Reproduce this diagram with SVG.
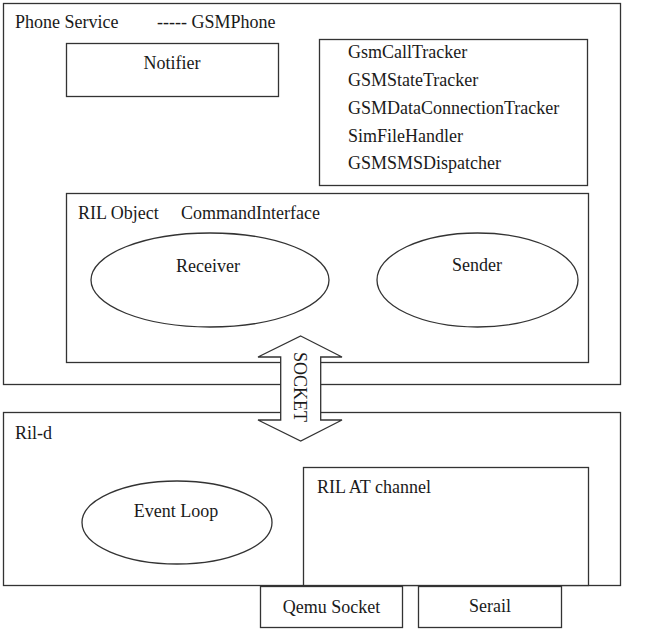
<svg xmlns="http://www.w3.org/2000/svg" width="647" height="630" viewBox="0 0 647 630" font-family="'Liberation Serif', 'DejaVu Serif', serif">
<style>
.b{fill:#fff;stroke:#333;stroke-width:1.3}
.t{font-family:'Liberation Serif','DejaVu Serif',serif;font-size:18px;fill:#1a1a1a}
.m{text-anchor:middle}
</style>
<rect width="647" height="630" fill="#fff"/>
<g id="phone-service">
<rect class="b" x="3.5" y="3.5" width="617" height="381"/>
<text class="t" x="15" y="28">Phone Service</text>
<text class="t" x="157" y="28">----- GSMPhone</text>
</g>
<g id="notifier">
<rect class="b" x="66.5" y="43.5" width="212" height="53"/>
<text class="t m" x="172" y="69">Notifier</text>
</g>
<g id="trackers">
<rect class="b" x="319.5" y="39.5" width="268" height="146"/>
<text class="t" x="348" y="58">GsmCallTracker</text>
<text class="t" x="348" y="86">GSMStateTracker</text>
<text class="t" x="348" y="114">GSMDataConnectionTracker</text>
<text class="t" x="348" y="142">SimFileHandler</text>
<text class="t" x="348" y="169">GSMSMSDispatcher</text>
</g>
<g id="ril-object">
<rect class="b" x="66.5" y="193.5" width="522" height="169"/>
<text class="t" x="78" y="219">RIL Object</text>
<text class="t" x="181" y="219">CommandInterface</text>
</g>
<g id="receiver">
<ellipse class="b" cx="210" cy="280" rx="119" ry="47"/>
<text class="t m" x="208" y="272">Receiver</text>
</g>
<g id="sender">
<ellipse class="b" cx="477.5" cy="280" rx="100.5" ry="47"/>
<text class="t m" x="477" y="271">Sender</text>
</g>
<g id="ril-d">
<rect class="b" x="3.5" y="412.5" width="617" height="173"/>
<text class="t" x="15" y="439">Ril-d</text>
</g>
<g id="event-loop">
<ellipse class="b" cx="177" cy="522.5" rx="95" ry="41.5"/>
<text class="t m" x="176" y="517">Event Loop</text>
</g>
<g id="ril-at-channel">
<rect class="b" x="303.5" y="467.5" width="285" height="118"/>
<text class="t" x="317" y="493">RIL AT channel</text>
</g>
<g id="qemu-socket">
<rect class="b" x="260.5" y="586.5" width="142" height="41"/>
<text class="t m" x="331.5" y="613">Qemu Socket</text>
</g>
<g id="serail">
<rect class="b" x="418.5" y="586.5" width="143" height="41"/>
<text class="t m" x="490" y="612">Serail</text>
</g>
<g id="connectors">
<g id="socket">
<polygon class="b" points="300.7,336 342,357 320.7,357 320.7,420 342,420 300.7,441 258,420 280.7,420 280.7,357 258,357"/>
<text class="t m" transform="translate(294,387) rotate(90)">SOCKET</text>
</g>
</g>
</svg>
